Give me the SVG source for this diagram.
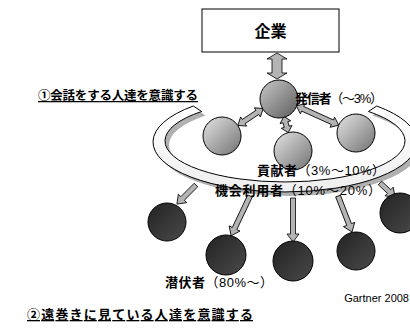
<svg xmlns="http://www.w3.org/2000/svg" width="410" height="331" viewBox="0 0 410 331">
<style>
text{font-family:"Liberation Sans","Noto Sans CJK JP",sans-serif;fill:#000}
.b{font-weight:bold}
.n{font-weight:normal}
.lbl{font-size:13px}
.arr{fill:#b4b4b4;stroke:#000;stroke-width:0.8;stroke-linejoin:miter}
.c{stroke:#000;stroke-width:1}
</style>
<defs>
<linearGradient id="gTop" x1="0" y1="0" x2="1" y2="1"><stop offset="0" stop-color="#c8c8c8"/><stop offset="1" stop-color="#5c5c5c"/></linearGradient>
<linearGradient id="gMid" x1="0" y1="0" x2="1" y2="1"><stop offset="0" stop-color="#e4e4e4"/><stop offset="1" stop-color="#727272"/></linearGradient>
<linearGradient id="gDark" x1="0" y1="0" x2="1" y2="1"><stop offset="0" stop-color="#222"/><stop offset="1" stop-color="#4a4a4a"/></linearGradient>
<linearGradient id="gRing" x1="0" y1="0" x2="0" y2="1"><stop offset="0" stop-color="#ffffff"/><stop offset="1" stop-color="#eeeeee"/></linearGradient>
</defs>

<g id="ring">
<path d="M197.3,110 A132,50 0 1 0 380.7,110 L372.4,115.5 A120,41 0 1 1 205.6,115.5 Z" fill="#b0b0b0"/>
<path d="M193.3,106 A132,50 0 1 0 376.7,106 L368.4,111.5 A120,41 0 1 1 201.6,111.5 Z" fill="url(#gRing)" class="c"/>
</g>

<g id="kigyo">
<rect x="202" y="9" width="137" height="43" fill="#fff" stroke="#000" stroke-width="1"/>
<text x="270.5" y="37" class="b" font-size="16" text-anchor="middle">企業</text>
</g>

<g id="connectors">
<path class="arr" d="M272,59 L267,59 L277,53 L287,59 L282,59 L282,73 L287,73 L277,79 L267,73 L272,73 Z"/>
<g transform="translate(263.2,108.5) rotate(146.3)"><path class="arr" d="M0,0 L7,-5.5 L7,-2.5 L23.5,-2.5 L23.5,-5.5 L30.5,0 L23.5,5.5 L23.5,2.5 L7,2.5 L7,5.5 Z"/></g>
<g transform="translate(283.9,116.4) rotate(75.2)"><path class="arr" d="M0,0 L6,-5.5 L6,-2.5 L10.8,-2.5 L10.8,-5.5 L16.8,0 L10.8,5.5 L10.8,2.5 L6,2.5 L6,5.5 Z"/></g>
<g transform="translate(296.3,105.9) rotate(24.4)"><path class="arr" d="M0,0 L7,-5.5 L7,-2.5 L39.6,-2.5 L39.6,-5.5 L46.6,0 L39.6,5.5 L39.6,2.5 L7,2.5 L7,5.5 Z"/></g>
<g transform="translate(196,185) rotate(135)"><path class="arr" d="M0,-2.5 L19,-2.5 L19,-6 L27,0 L19,6 L19,2.5 L0,2.5 Z"/></g>
<g transform="translate(250,196) rotate(115.4)"><path class="arr" d="M0,-2.5 L36,-2.5 L36,-6 L44,0 L36,6 L36,2.5 L0,2.5 Z"/></g>
<g transform="translate(293,198) rotate(90)"><path class="arr" d="M0,-2.5 L36,-2.5 L36,-6 L44,0 L36,6 L36,2.5 L0,2.5 Z"/></g>
<g transform="translate(338,196) rotate(68.7)"><path class="arr" d="M0,-2.5 L30.6,-2.5 L30.6,-6 L38.6,0 L30.6,6 L30.6,2.5 L0,2.5 Z"/></g>
<g transform="translate(380,183) rotate(43)"><path class="arr" d="M0,-2.5 L12.5,-2.5 L12.5,-6 L20.5,0 L12.5,6 L12.5,2.5 L0,2.5 Z"/></g>
</g>

<g id="hasshinsha">
<circle cx="279" cy="99" r="19" fill="url(#gTop)" class="c"/>
<text x="295" y="103" class="b lbl" textLength="88">発信者<tspan class="n">（～3%）</tspan></text>
</g>

<g id="kokensha">
<circle cx="222" cy="136" r="19" fill="url(#gMid)" class="c"/>
<circle cx="293" cy="151" r="19" fill="url(#gMid)" class="c"/>
<circle cx="356" cy="133" r="19" fill="url(#gMid)" class="c"/>
<text x="257" y="175" class="b lbl" textLength="128">貢献者<tspan class="n">（3%～10%）</tspan></text>
</g>

<g id="kikai">
<text x="215" y="195" class="b lbl" textLength="166">機会利用者<tspan class="n">（10%～20%）</tspan></text>
</g>

<g id="senpukusha">
<circle cx="167" cy="222" r="19" fill="url(#gDark)" class="c"/>
<circle cx="226" cy="255" r="20" fill="url(#gDark)" class="c"/>
<circle cx="293" cy="261" r="20" fill="url(#gDark)" class="c"/>
<circle cx="356" cy="251" r="19" fill="url(#gDark)" class="c"/>
<circle cx="400" cy="213" r="20" fill="url(#gDark)" class="c"/>
<text x="165" y="287" class="b lbl" textLength="108">潜伏者<tspan class="n">（80%～）</tspan></text>
</g>

<g id="labels">
<text x="38" y="100" class="b" font-size="12.5" text-decoration="underline" textLength="160">①会話をする人達を意識する</text>
<text x="27" y="319" class="b" font-size="13" text-decoration="underline" textLength="226">②遠巻きに見ている人達を意識する</text>
<text x="409" y="302" font-size="11" text-anchor="end">Gartner 2008</text>
</g>
</svg>
